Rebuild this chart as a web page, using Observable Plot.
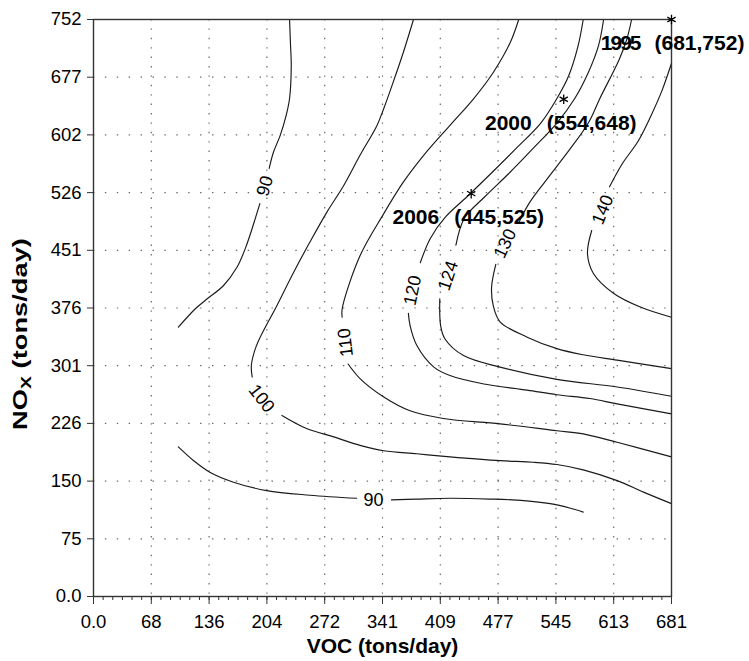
<!DOCTYPE html>
<html><head><meta charset="utf-8">
<script src="https://cdn.jsdelivr.net/npm/d3@7"></script>
<script src="https://cdn.jsdelivr.net/npm/@observablehq/plot@0.6"></script>
<style>
body{margin:0;background:#fff;}
svg{display:block;}
</style>
</head><body><div id="chart"></div>
<script>
// ---- axis ticks ----
const xTickValues = [0, 68.1, 136.2, 204.3, 272.4, 340.5, 408.6, 476.7, 544.8, 612.9, 681];
const xTickLabels = ["0.0","68","136","204","272","341","409","477","545","613","681"];
const yTickValues = [0, 75.2, 150.4, 225.6, 300.8, 376, 451.2, 526.4, 601.6, 676.8, 752];
const yTickLabels = ["0.0","75","150","226","301","376","451","526","602","677","752"];

// ---- contour lines (VOC, NOx) split where labels sit ----
const c90upA = [[231,752],[232,722],[233,692],[231,649],[227,627],[220,601],[212,579],[207,558]];
const c90upB = [[196,512],[187,480],[179,454],[169,429],[153,405],[134,388],[120,375],[100,351]];
const c90loA = [[100,195],[118,177],[137,162],[165,149],[204,138],[255,132],[310,128]];
const c90loB = [[351,126],[381,127],[420,128],[467,127],[507,125],[538,121],[562,115],[577,110]];
const c100A = [[377,752],[365,709],[353,670],[342,636],[334,614],[314,575],[295,536],[275,501],[255,462],[236,423],[216,379],[192,327],[186,301],[187,286]];
const c100B = [[222,236],[251,219],[283,208],[314,197],[342,190],[381,186],[420,182],[479,177],[518,175],[546,172],[577,165],[617,151],[648,136],[681,121]];
const c110A = [[501,752],[491,722],[471,683],[448,649],[420,614],[389,575],[365,540],[342,499],[314,444],[293,375],[293,364]];
const c110B = [[300,303],[314,284],[342,260],[373,242],[412,232],[479,225],[546,216],[577,212],[617,201],[681,182]];
const c120A = [[577,752],[571,718],[560,679],[546,649],[527,617],[498,584],[468,551],[440,521],[415,495],[397,467],[385,435]];
const c120B = [[371,369],[373,353],[381,327],[401,299],[420,288],[460,277],[511,269],[546,263],[585,258],[617,251],[681,238]];
const c124A = [[601,752],[595,718],[583,683],[567,649],[546,617],[518,584],[489,551],[461,521],[437,493],[427,458]];
const c124B = [[408,388],[409,353],[414,336],[436,314],[479,299],[546,283],[617,273],[681,261]];
const c130A = [[634,752],[628,725],[619,699],[597,650],[583,617],[560,581],[533,542],[513,512],[501,487]];
const c130B = [[474,433],[469,403],[471,379],[479,358],[511,338],[546,323],[577,315],[617,308],[681,297]];
const c140A = [[681,695],[670,660],[657,627],[642,594],[623,564],[608,534]];
const c140B = [[587,477],[582,447],[589,421],[613,395],[645,377],[681,364]];

// ---- contour labels ----
const labelText   = ["90","90","100","110","120","124","130","140"];
const labelVOC    = [202, 330, 198, 297, 376, 418, 485, 600];
const labelNOx    = [535, 125, 258, 331, 399, 418, 460, 504];
const labelRotate = [-74, 0, 52, -97, -78, -72, -65, -68];

// ---- emission points ----
const years      = ["1995","2000","2006"];
const yearVOC    = [681, 554, 445];
const yearNOx    = [752, 648, 525];
const yearCoords = ["(681,752)","(554,648)","(445,525)"];

const segments = [
  ["90upA",c90upA],["90upB",c90upB],["90loA",c90loA],["90loB",c90loB],
  ["100A",c100A],["100B",c100B],["110A",c110A],["110B",c110B],
  ["120A",c120A],["120B",c120B],["124A",c124A],["124B",c124B],
  ["130A",c130A],["130B",c130B],["140A",c140A],["140B",c140B]
];
const lineRows = segments.flatMap(([id, pts]) => pts.map(([v, n]) => ({id, voc: v, nox: n})));
const labels = labelText.map((t, i) => ({t, voc: labelVOC[i], nox: labelNOx[i], r: labelRotate[i]}));
const points = years.map((yr, i) => ({yr, c: yearCoords[i], voc: yearVOC[i], nox: yearNOx[i]}));
const minorX = d3.range(0, 681.01, 11.35);

const font = "'Liberation Sans', Arial, Helvetica, sans-serif";

const chart = Plot.plot({
  width: 749, height: 661,
  marginLeft: 93, marginRight: 78, marginTop: 19, marginBottom: 65,
  style: {fontFamily: font, fontSize: "18.5px", color: "#000", background: "#fff"},
  x: {domain: [0, 681], label: null},
  y: {domain: [0, 752], label: null},
  marks: [
    Plot.gridX(xTickValues.slice(1, -1), {stroke: "#666", strokeOpacity: 1, strokeDasharray: "1.4,8", strokeWidth: 1.2}),
    Plot.gridY(yTickValues.slice(1, -1), {stroke: "#666", strokeOpacity: 1, strokeDasharray: "1.4,10.5", strokeWidth: 1.2}),
    Plot.line(lineRows, {x: "voc", y: "nox", z: "id", curve: "catmull-rom", stroke: "#1a1a1a", strokeWidth: 1.15}),
    Plot.text(labels, {x: "voc", y: "nox", text: "t", rotate: "r", fontSize: 18, fill: "#000"}),
    Plot.axisX(minorX, {tickSize: 4, tickFormat: () => "", label: null, stroke: "#333"}),
    Plot.axisX(xTickValues, {tickSize: 8, tickPadding: 10, label: null, stroke: "#333",
      tickFormat: d => xTickLabels[xTickValues.indexOf(d)]}),
    Plot.axisY(yTickValues, {tickSize: 6, tickPadding: 6, label: null, stroke: "#333",
      tickFormat: d => yTickLabels[yTickValues.indexOf(d)]}),
    Plot.frame({stroke: "#333", strokeWidth: 1.4}),
    Plot.dot(points, {x: "voc", y: "nox", symbol: "asterisk", r: 4.5, stroke: "#000", strokeWidth: 1.3}),
    Plot.text(points, {x: "voc", y: "nox", text: "yr", textAnchor: "end", dx: -32, dy: 24, fontWeight: "bold", fontSize: 21, fill: "#000"}),
    Plot.text(points, {x: "voc", y: "nox", text: "c", textAnchor: "start", dx: -17, dy: 24, fontWeight: "bold", fontSize: 21, fill: "#000"}),
    Plot.text(["VOC (tons/day)"], {frameAnchor: "bottom", lineAnchor: "middle", dy: 50, fontWeight: "bold", fontSize: 21, fill: "#000"})
  ]
});

const svg = d3.select(chart);
svg.selectAll("text").filter(function() { return this.textContent === "1995"; })
  .attr("letter-spacing", "-2");
const yl = svg.append("text")
  .attr("transform", "translate(22,334) rotate(-90) scale(1.3,1)")
  .attr("text-anchor", "middle")
  .attr("dominant-baseline", "middle")
  .attr("font-family", font)
  .attr("font-weight", "bold")
  .attr("font-size", 21)
  .attr("fill", "#000");
yl.append("tspan").text("NO");
yl.append("tspan").attr("font-size", 15).attr("dy", 5).text("X");
yl.append("tspan").attr("dy", -5).text(" (tons/day)");

document.getElementById("chart").appendChild(chart);
</script>
</body></html>
